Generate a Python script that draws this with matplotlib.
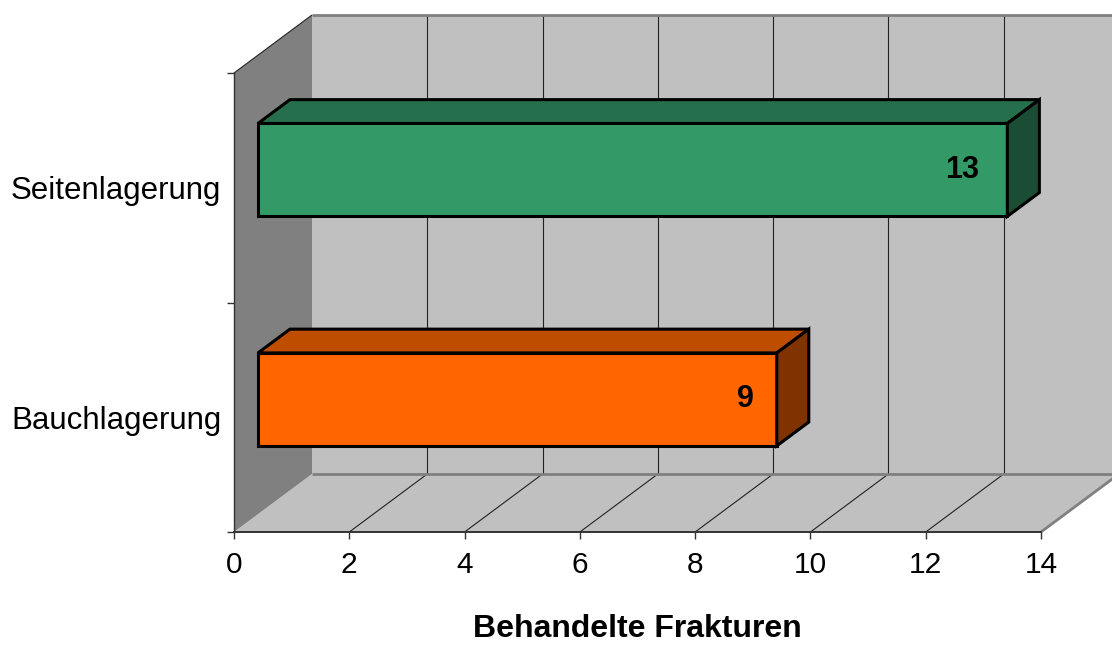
#!/usr/bin/env python3

import matplotlib
matplotlib.use('Agg')
import matplotlib.pyplot as plt
from matplotlib.patches import Polygon

categories = ['Bauchlagerung', 'Seitenlagerung']
values = [9, 13]
colors = ['#ff6600', '#339966']
top_colors = ['#bf4d00', '#266f4d']
side_colors = ['#803300', '#1a4d33']
x_ticks = [0, 2, 4, 6, 8, 10, 12, 14]
x_label = 'Behandelte Frakturen'

# oblique projection: how far (in data units) one full depth shifts a point
DX = 78 / (807 / 14)
DY = 58 / 229.5


def proj(x, y, d=0.0):
    return x + d * DX, y + d * DY


def face(ax, pts, fc, ec='none', lw=0, z=1):
    ax.add_patch(Polygon([proj(*p) for p in pts], closed=True, fc=fc, ec=ec,
                         lw=lw, zorder=z, joinstyle='miter', clip_on=False))


def line(ax, a, b, c='black', lw=1.0, z=2):
    xa, ya = proj(*a)
    xb, yb = proj(*b)
    ax.plot([xa, xb], [ya, yb], c=c, lw=lw, zorder=z, clip_on=False,
            solid_capstyle='butt')


def bar3d(ax, y, v, fc, tc, sc):
    h = 0.405 / 2
    d0, d1 = 24 / 78, 24 / 78 + 32 / 78
    lw = 2.2
    face(ax, [(0, y - h, d0), (v, y - h, d0), (v, y + h, d0), (0, y + h, d0)], fc, 'black', lw, 5)
    face(ax, [(0, y + h, d0), (v, y + h, d0), (v, y + h, d1), (0, y + h, d1)], tc, 'black', lw, 5)
    face(ax, [(v, y - h, d0), (v, y + h, d0), (v, y + h, d1), (v, y - h, d1)], sc, 'black', lw, 5)
    tx, ty = proj(0.94 * v, y, d0)
    ax.text(tx, ty, str(v), ha='center', va='center', fontsize=22,
            fontweight='bold', family='Liberation Sans', zorder=6)


if __name__ == '__main__':

    fig = plt.figure(figsize=(11.12, 6.46), dpi=100)
    ax = fig.add_axes([234 / 1112, 1 - 532 / 646, 807 / 1112, 459 / 646])
    ax.set_xlim(0, 14)
    ax.set_ylim(0, 2)
    ax.patch.set_visible(False)
    for s in ['top', 'right']:
        ax.spines[s].set_visible(False)
    ax.spines['left'].set_color('#333333')
    ax.spines['bottom'].set_color('#333333')
    ax.spines['left'].set_linewidth(1.0)
    ax.spines['bottom'].set_linewidth(1.4)

    # walls and floor
    face(ax, [(0, 0, 1), (14, 0, 1), (14, 2, 1), (0, 2, 1)], '#c0c0c0')
    face(ax, [(0, 0, 0), (14, 0, 0), (14, 0, 1), (0, 0, 1)], '#c0c0c0')
    face(ax, [(0, 0, 0), (0, 0, 1), (0, 2, 1), (0, 2, 0)], '#808080')

    # grid lines on the back wall and floor
    for t in x_ticks[1:-1]:
        line(ax, (t, 0, 1), (t, 2, 1), c='#222222', lw=0.8)
        line(ax, (t, 0, 0), (t, 0, 1), c='#222222', lw=0.8)
    line(ax, (14, 0, 1), (14, 2, 1), c='#222222', lw=0.8)
    line(ax, (0, 2, 0), (0, 2, 1), c='#222222', lw=0.8)
    line(ax, (0, 0, 1), (14, 0, 1), c='#808080', lw=2.0)
    line(ax, (0, 2, 1), (14, 2, 1), c='#808080', lw=2.0)
    line(ax, (14, 0, 0), (14, 0, 1), c='#808080', lw=2.0)

    for i in range(len(categories)):
        bar3d(ax, i + 0.5, values[i], colors[i], top_colors[i], side_colors[i])

    ax.set_xticks(x_ticks)
    ax.set_yticks([0, 1, 2])
    ax.set_yticklabels([])
    ax.set_yticks([i + 0.5 for i in range(len(categories))], minor=True)
    ax.set_yticklabels(categories, minor=True, fontsize=22.5, family='Liberation Sans')
    ax.tick_params(axis='y', which='minor', length=0, pad=9)
    ax.tick_params(axis='y', which='major', length=5, color='#333333', width=1.0)
    ax.tick_params(axis='x', length=5, color='#333333', width=1.0, pad=9)
    for lab in ax.get_xticklabels():
        lab.set_fontsize(21.5)
        lab.set_family('Liberation Sans')

    fig.text(637 / 1112, 1 - 629 / 646, x_label, ha='center', va='center',
             fontsize=23, fontweight='bold', family='Liberation Sans')

    fig.savefig('out.png', dpi=100)
